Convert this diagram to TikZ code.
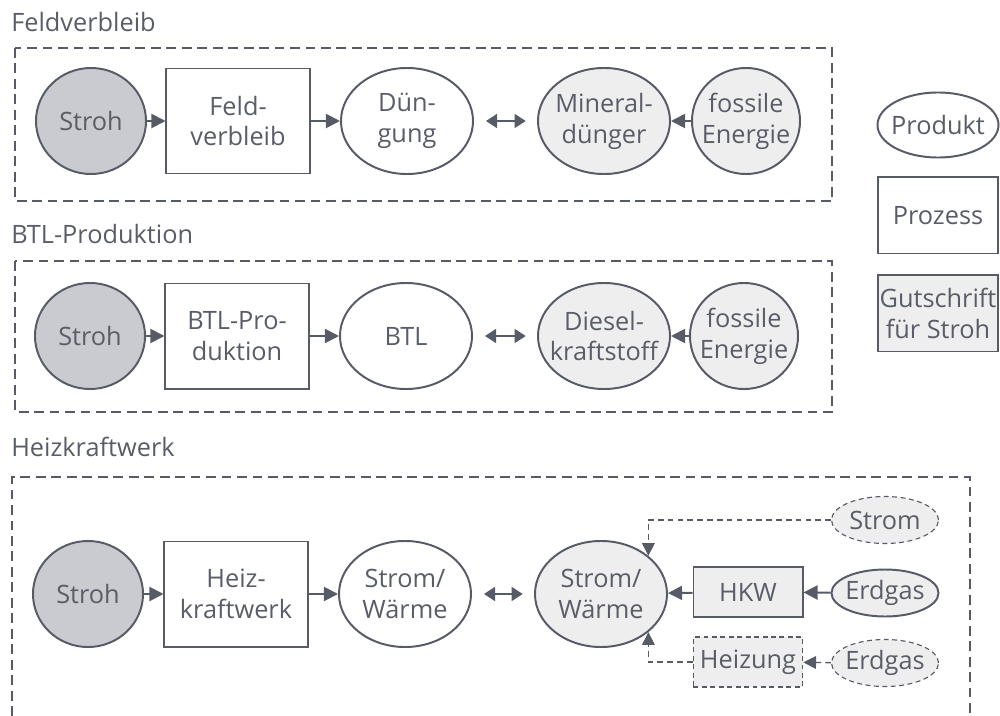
\documentclass[tikz,border=0pt]{standalone}
\usepackage{fontspec}
\setsansfont{Open Sans}
\usepackage{tikz}
\usetikzlibrary{positioning, arrows.meta, shapes.geometric}
\definecolor{strawLine}{HTML}{565B66}
\definecolor{strawText}{HTML}{595D67}
\definecolor{strawDark}{HTML}{CACBD0}
\definecolor{strawLight}{HTML}{EEEEEF}

\begin{document}
\begin{tikzpicture}[
  x=0.025cm, y=-0.025cm,
  every node/.style={font=\sffamily\fontsize{18}{22}\selectfont, text=strawText, align=center},
  source/.style={
    ellipse, inner xsep=-15pt, inner ysep=0pt,
    minimum width=2.75cm, minimum height=2.65cm,
    draw=strawLine, line width=1.4pt, fill=strawDark
  },
  process/.style={
    rectangle, inner sep=0pt,
    minimum width=3.575cm, minimum height=2.625cm,
    draw=strawLine, line width=1.4pt, fill=white
  },
  product/.style={
    ellipse, inner xsep=-15pt, inner ysep=0pt,
    minimum width=3.3cm, minimum height=2.65cm,
    draw=strawLine, line width=1.4pt, fill=#1
  },
  product/.default=white,
  fossil/.style={
    ellipse, inner xsep=-15pt, inner ysep=0pt,
    minimum width=2.7cm, minimum height=2.65cm,
    draw=strawLine, line width=1.4pt, fill=strawLight
  },
  plant/.style={
    rectangle, inner sep=0pt,
    minimum width=2.725cm, minimum height=1.25cm,
    draw=strawLine, line width=1.4pt, fill=strawLight
  },
  fuel/.style={
    ellipse, inner xsep=-15pt, inner ysep=0pt,
    minimum width=2.675cm, minimum height=1.175cm,
    draw=strawLine, line width=1.4pt, fill=strawLight
  },
  option/.style={dash pattern=on 3.5pt off 2.5pt, line width=0.8pt},
  frame/.style={draw=strawLine, line width=1pt, dash pattern=on 7pt off 4pt},
  title/.style={anchor=west, inner sep=0pt},
  flow/.style={strawLine, line width=1.4pt, -{Triangle[length=10pt,width=10pt]}},
  swap/.style={
    strawLine, line width=1.4pt,
    {Triangle[length=8pt,width=10pt]}-{Triangle[length=8pt,width=10pt]},
    shorten <=8.5pt, shorten >=8pt
  },
  altflow/.style={
    strawLine, line width=1pt, dash pattern=on 4pt off 3pt,
    -{Triangle[length=9pt,width=9pt]}
  },
]
\useasboundingbox (0,0) rectangle (1000,716);

% === FELDVERBLEIB ===
\node[title] (t1) at (11,22) {Feldverbleib};
\draw[frame] (15,48) rectangle (832,201);
\node[source] (stroh1) at (91,121) {Stroh};
\node[process] (feld) at (238,121) {Feld-\\verbleib};
\node[product] (dung) at (407,121) {Dün-\\gung};
\node[product=strawLight] (mineral) at (604,121) {Mineral-\\dünger};
\node[fossil] (fossil1) at (746,121) {fossile\\Energie};

\draw[flow] (stroh1) -- (feld);
\draw[flow] (feld) -- (dung);
\draw[swap] (dung) -- (mineral);
\draw[flow] (fossil1) -- (mineral);

% === BTL-PRODUKTION ===
\node[title] (t2) at (11,234) {BTL-Produktion};
\draw[frame] (15,261) rectangle (832,412);
\node[source] (stroh2) at (90,336) {Stroh};
\node[process] (btlprod) at (237,336) {BTL-Pro-\\duktion};
\node[product] (btl) at (406,336) {BTL};
\node[product=strawLight] (diesel) at (604,336) {Diesel-\\kraftstoff};
\node[fossil] (fossil2) at (744,336) {fossile\\Energie};

\draw[flow] (stroh2) -- (btlprod);
\draw[flow] (btlprod) -- (btl);
\draw[swap] (btl) -- (diesel);
\draw[flow] (fossil2) -- (diesel);

% === HEIZKRAFTWERK ===
\node[title] (t3) at (11,447) {Heizkraftwerk};
\draw[frame] (12,716) -- (12,477) -- (970,477) -- (970,716);
\node[source] (stroh3) at (88,594) {Stroh};
\node[process] (hkwprod) at (236,594) {Heiz-\\kraftwerk};
\node[product] (sw1) at (405,594) {Strom/\\Wärme};
\node[product=strawLight] (sw2) at (601,594) {Strom/\\Wärme};

% substitutes for the credit
\node[plant] (hkw) at (748,592) {HKW};
\node[fuel] (gas1) at (885,593) {Erdgas};
\node[fuel, option] (strom) at (885,520) {Strom};
\node[plant, option, line width=1.2pt] (heiz) at (748,662) {Heizung};
\node[fuel, option] (gas2) at (885,663) {Erdgas};

\draw[flow] (stroh3) -- (hkwprod);
\draw[flow] (hkwprod) -- (sw1);
\draw[swap] (sw1) -- (sw2);
\draw[flow] (hkw) -- (sw2);
\draw[flow] (gas1) -- (hkw);
\draw[altflow] (strom.west) -| (sw2.north east);
\draw[altflow] (heiz.west) -| (sw2.south east);
\draw[altflow] (gas2) -- (heiz);

% === LEGEND ===
\node[product, minimum width=3.025cm, minimum height=1.625cm] (leg-prod) at (938,125) {Produkt};
\node[process, minimum width=3cm, minimum height=1.9cm, below=0.45cm of leg-prod] (leg-proc) {Prozess};
\node[process, fill=strawLight, minimum width=3cm, minimum height=1.9cm, below=0.5cm of leg-proc] (leg-credit) {Gutschrift\\für Stroh};

\end{tikzpicture}
\end{document}
